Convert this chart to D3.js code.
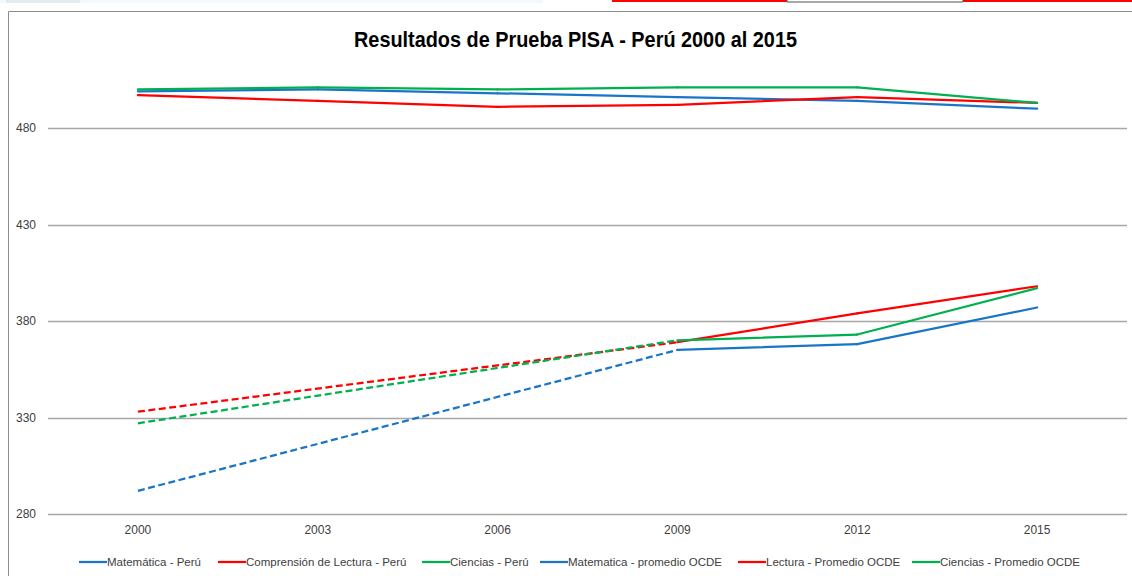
<!DOCTYPE html>
<html>
<head>
<meta charset="utf-8">
<script src="https://cdn.jsdelivr.net/npm/d3@7"></script>
<style>
  html, body { margin: 0; padding: 0; background: #fff; }
  svg { display: block; }
  text { font-family: "Liberation Sans Narrow", "Arial Narrow", "Liberation Sans", Arial, sans-serif; }
</style>
</head>
<body>
<div id="chart"></div>
<script>
// categories (PISA rounds)
const years = ["2000", "2003", "2006", "2009", "2012", "2015"];

// Perú scores (null = did not take part that round)
const mathPeru = [292, null, null, 365, 368, 387];
const readingPeru = [333, null, null, 369, 384, 398];
const sciencePeru = [327, null, null, 370, 373, 397];

// OCDE averages
const mathOcde = [499, 500, 498, 496, 494, 490];
const readingOcde = [497, 494, 491, 492, 496, 493];
const scienceOcde = [500, 501, 500, 501, 501, 493];

const yTicks = [280, 330, 380, 430, 480];

const seriesNames = [
	"Matemática - Perú",
	"Comprensión de Lectura - Perú",
	"Ciencias - Perú",
	"Matematica - promedio OCDE",
	"Lectura - Promedio OCDE",
	"Ciencias - Promedio OCDE"
];

const BLUE = "#1A75C9", RED = "#FF0000", GREEN = "#00B050";

const series = [
	{ name: seriesNames[0], values: mathPeru, color: BLUE },
	{ name: seriesNames[1], values: readingPeru, color: RED },
	{ name: seriesNames[2], values: sciencePeru, color: GREEN },
	{ name: seriesNames[3], values: mathOcde, color: BLUE },
	{ name: seriesNames[4], values: readingOcde, color: RED },
	{ name: seriesNames[5], values: scienceOcde, color: GREEN }
];

const width = 1132, height = 576;

const svg = d3.select("#chart")
	.append("svg")
	.attr("width", width)
	.attr("height", height);

// bits of the spreadsheet window showing above the chart
svg.append("rect").attr("x", 0).attr("y", 0).attr("width", 543).attr("height", 3).attr("fill", "#f2f8fc");
svg.append("rect").attr("x", 6).attr("y", 0).attr("width", 74).attr("height", 3).attr("fill", "#e2eaf4");
svg.append("rect").attr("x", 612).attr("y", 0).attr("width", 175).attr("height", 2).attr("fill", RED);
svg.append("rect").attr("x", 963).attr("y", 0).attr("width", 169).attr("height", 2).attr("fill", RED);
svg.append("line").attr("x1", 787).attr("x2", 963).attr("y1", 2).attr("y2", 2).attr("stroke", "#555").attr("stroke-width", 1.2);
svg.append("line").attr("x1", 787).attr("x2", 787).attr("y1", 0).attr("y2", 2).attr("stroke", "#555");
svg.append("line").attr("x1", 963).attr("x2", 963).attr("y1", 0).attr("y2", 2).attr("stroke", "#555");

// chart frame
svg.append("path")
	.attr("d", "M8.5,576 V11.5 H1132")
	.attr("fill", "none")
	.attr("stroke", "#8c8c8c")
	.attr("stroke-width", 1);

// title (squeezed to the width of the original condensed face)
svg.append("text")
	.attr("x", 354)
	.attr("y", 47)
	.attr("font-size", 22)
	.attr("font-weight", "bold")
	.attr("fill", "#000")
	.attr("textLength", 443)
	.attr("lengthAdjust", "spacingAndGlyphs")
	.text("Resultados de Prueba PISA - Perú 2000 al 2015");

const x = d3.scaleBand().domain(years).range([48, 1127]);
const cx = d => x(d) + x.bandwidth() / 2;
const y = d3.scaleLinear().domain([280, 480]).range([514, 128]);

// gridlines
svg.append("g")
	.selectAll("line")
	.data(yTicks)
	.enter()
	.append("line")
	.attr("x1", 48)
	.attr("x2", 1127)
	.attr("y1", d => Math.round(y(d)) + 0.5)
	.attr("y2", d => Math.round(y(d)) + 0.5)
	.attr("stroke", "#a6a6a6")
	.attr("stroke-width", 1.3);

// y axis labels
const yAxis = d3.axisLeft(y).tickValues(yTicks).tickSize(0).tickPadding(0);
const gy = svg.append("g").attr("transform", "translate(36,0)").call(yAxis);
gy.select(".domain").remove();
gy.selectAll("text")
	.attr("font-size", 12)
	.attr("fill", "#404040")
	.attr("font-family", null);

// x axis labels
const xAxis = d3.axisBottom(x).tickSize(0).tickPadding(0);
const gx = svg.append("g").attr("transform", "translate(0,525)").call(xAxis);
gx.select(".domain").remove();
gx.selectAll("text")
	.attr("font-size", 12)
	.attr("fill", "#404040")
	.attr("font-family", null);

// lines: solid between consecutive rounds, dashed across missing rounds
const lineGen = d3.line().x(d => cx(d.year)).y(d => y(d.value));
const lines = svg.append("g");
series.forEach(s => {
	const pts = s.values
		.map((v, i) => ({ year: years[i], value: v, i: i }))
		.filter(p => p.value !== null);
	for (let k = 1; k < pts.length; k++) {
		const a = pts[k - 1], b = pts[k];
		const gap = b.i - a.i > 1;
		lines.append("path")
			.attr("d", lineGen([a, b]))
			.attr("fill", "none")
			.attr("stroke", s.color)
			.attr("stroke-width", 2.25)
			.attr("stroke-linecap", gap ? "butt" : "round")
			.attr("stroke-linejoin", "round")
			.attr("stroke-dasharray", gap ? "7,3.5" : null);
	}
});

// legend
const legendStarts = [79, 218, 422, 540, 738, 912];
const legend = svg.append("g").attr("transform", "translate(0,562)");
series.forEach((s, i) => {
	const item = legend.append("g").attr("transform", `translate(${legendStarts[i]},0)`);
	item.append("line")
		.attr("x1", 0).attr("x2", 28)
		.attr("y1", 0).attr("y2", 0)
		.attr("stroke", s.color)
		.attr("stroke-width", 2.25);
	item.append("text")
		.attr("x", 28)
		.attr("y", 0)
		.attr("dy", "0.35em")
		.attr("font-size", 11.5)
		.attr("fill", "#404040")
		.text(s.name);
});
</script>
</body>
</html>
